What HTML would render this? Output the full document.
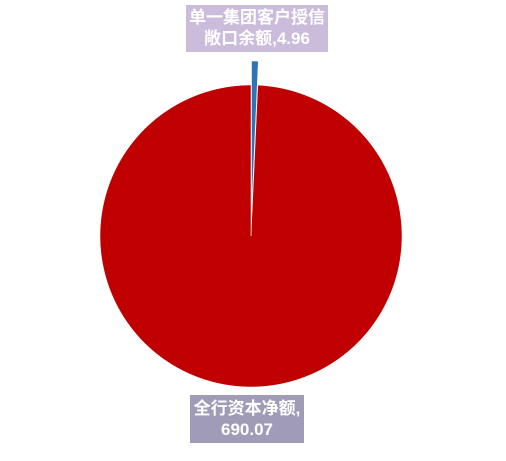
<!DOCTYPE html>
<html><head><meta charset="utf-8"><style>
body{margin:0;width:506px;height:461px;background:#fff;overflow:hidden;font-family:"Liberation Sans","Noto Sans CJK SC",sans-serif}
.lbl{position:absolute;color:#fff;font-weight:bold;font-size:17px;line-height:21px;text-align:center}
</style></head><body>
<svg id="chart" width="506" height="461" style="position:absolute;left:0;top:0"></svg>
<div class="lbl" style="left:186px;top:5px;width:142px;height:47px;background:#cbbcdc;padding-top:2px;box-sizing:border-box">单一集团客户授信<br>敞口余额,4.96</div>
<div class="lbl" style="left:190px;top:395px;width:114px;height:48px;background:#a09cb8;padding-top:3px;box-sizing:border-box">全行资本净额,<br>690.07</div>
<script>
const categories=["单一集团客户授信敞口余额","全行资本净额"];
const values=[4.96,690.07];
const colors=["#2e75b6","#c00000"];
const explode=[24,0];
const svg=document.getElementById('chart');
const cx=251,cy=236,r=151;
const total=values.reduce((a,b)=>a+b,0);
let a0=0;
values.forEach((v,i)=>{
  const a1=a0+v/total*2*Math.PI;
  const mid=(a0+a1)/2;
  const ox=cx+explode[i]*Math.sin(mid), oy=cy-explode[i]*Math.cos(mid);
  const x0=ox+r*Math.sin(a0),y0=oy-r*Math.cos(a0),x1=ox+r*Math.sin(a1),y1=oy-r*Math.cos(a1);
  const large=(a1-a0)>Math.PI?1:0;
  const p=document.createElementNS('http://www.w3.org/2000/svg','path');
  p.setAttribute('d',`M${ox},${oy}L${x0},${y0}A${r},${r} 0 ${large} 1 ${x1},${y1}Z`);
  p.setAttribute('fill',colors[i]);
  p.setAttribute('stroke','#fff');
  p.setAttribute('stroke-width','0.5');
  
  
  svg.appendChild(p);
  a0=a1;
});
</script>
</body></html>
